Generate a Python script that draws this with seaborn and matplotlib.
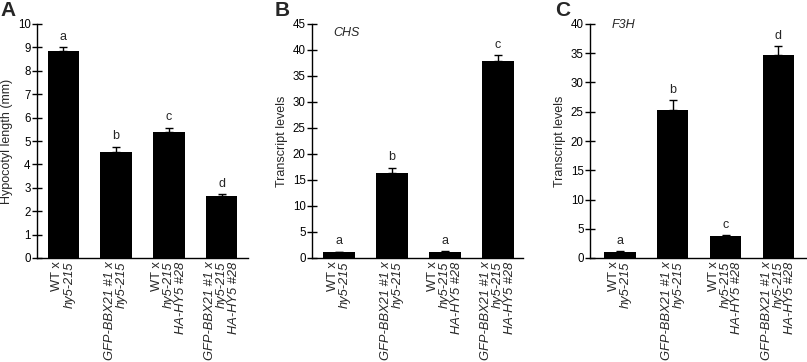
import numpy as np
import pandas as pd
import matplotlib
matplotlib.use("Agg")
import matplotlib.pyplot as plt
import matplotlib.transforms as mtransforms
import seaborn as sns

# ---------------- data ----------------
genotypes = ["WT x hy5-215", "GFP-BBX21 #1 x hy5-215",
             "WT x hy5-215 HA-HY5 #28", "GFP-BBX21 #1 x hy5-215 HA-HY5 #28"]
label_lines = [["WT x", "hy5-215"],
               ["GFP-BBX21 #1 x", "hy5-215"],
               ["WT x", "hy5-215", "HA-HY5 #28"],
               ["GFP-BBX21 #1 x", "hy5-215", "HA-HY5 #28"]]
label_italic = [[False, True],
                [True, True],
                [False, True, True],
                [True, True, True]]

hypocotyl = [8.83, 4.52, 5.40, 2.65]
hypocotyl_err = [0.20, 0.24, 0.17, 0.07]
hypocotyl_sig = ["a", "b", "c", "d"]

chs = [1.1, 16.3, 1.2, 37.9]
chs_err = [0.15, 1.1, 0.15, 1.1]
chs_sig = ["a", "b", "a", "c"]

f3h = [1.08, 25.3, 3.76, 34.7]
f3h_err = [0.1, 1.7, 0.15, 1.5]
f3h_sig = ["a", "b", "c", "d"]

panels = [
    dict(letter="A", vals=hypocotyl, err=hypocotyl_err, sig=hypocotyl_sig,
         ylabel="Hypocotyl length (mm)", ymax=10, ystep=1, gene=None),
    dict(letter="B", vals=chs, err=chs_err, sig=chs_sig,
         ylabel="Transcript levels", ymax=45, ystep=5, gene="CHS"),
    dict(letter="C", vals=f3h, err=f3h_err, sig=f3h_sig,
         ylabel="Transcript levels", ymax=40, ystep=5, gene="F3H"),
]

# ---------------- layout (pixels) ----------------
W, H = 807, 362
sns.set_theme(style="ticks")
plt.rcParams["font.family"] = ["Liberation Sans", "DejaVu Sans"]

fig = plt.figure(figsize=(W / 100, H / 100), dpi=100)

ax_px = [(37, 248), (312, 523), (590, 806)]
xlims = [(-0.5, 3.5), (-0.51, 3.47), (-0.56, 3.52)]
letter_x = [0, 275, 555]
ylabel_right_px = [13, 288, 566]
gene_pos = [None, (0.10, 0.962), (0.10, 0.994)]
top_px, bot_px = 24, 258

for i, p in enumerate(panels):
    l, r = ax_px[i]
    ax = fig.add_axes([l / W, (H - bot_px) / H, (r - l) / W, (bot_px - top_px) / H])
    df = pd.DataFrame({"genotype": genotypes, "value": p["vals"]})
    sns.barplot(data=df, x="genotype", y="value", color="black", width=0.6,
                saturation=1, errorbar=None, ax=ax, edgecolor="none")
    xs = np.arange(len(genotypes))
    ax.errorbar(xs, p["vals"], yerr=[np.zeros(len(xs)), p["err"]], fmt="none",
                ecolor="black", elinewidth=1, capsize=3.2, capthick=1)
    for x, v, e, s in zip(xs, p["vals"], p["err"], p["sig"]):
        ax.annotate(s, (x, v + e), xytext=(0, 3), textcoords="offset points",
                    ha="center", va="bottom", fontsize=9)
    ax.set_ylim(0, p["ymax"])
    ax.set_yticks(np.arange(0, p["ymax"] + 0.1, p["ystep"]))
    ax.set_xlim(*xlims[i])
    ax.set_xticks(xs)
    ax.set_xticklabels([])
    ax.set_xlabel("")
    ax.set_ylabel(p["ylabel"], fontsize=9)
    ax.yaxis.set_label_coords((ylabel_right_px[i] - l) / (r - l), 0.5)
    ax.tick_params(axis="y", direction="inout", length=7, width=1, labelsize=8.3,
                   pad=1, colors="black")
    ax.tick_params(axis="x", length=0)
    for sp in ["top", "right"]:
        ax.spines[sp].set_visible(False)
    for sp in ["left", "bottom"]:
        ax.spines[sp].set_color("black")
        ax.spines[sp].set_linewidth(1)
    ax.set_facecolor("white")
    ax.patch.set_alpha(0)

    # multi-line, mixed-style category labels
    base = mtransforms.blended_transform_factory(ax.transData, ax.transAxes)
    for x, lines, ital in zip(xs, label_lines, label_italic):
        n = len(lines)
        for j, (txt, it) in enumerate(zip(lines, ital)):
            dx = (j - (n - 1) / 2) * 8.6
            tr = mtransforms.offset_copy(base, fig=fig, x=dx, y=-2.5, units="points")
            ax.text(x, 0, txt, transform=tr, rotation=90, ha="center", va="top",
                    fontsize=9.3, fontstyle="italic" if it else "normal",
                    rotation_mode="default", clip_on=False)

    if gene_pos[i] is not None:
        gx, gy = gene_pos[i]
        ax.text(gx, gy, p["gene"], transform=ax.transAxes, fontsize=9,
                fontstyle="italic", ha="left", va="center")

    fig.text(letter_x[i] / W, 1 - 1 / H, p["letter"], fontsize=15,
             fontweight="bold", ha="left", va="top")

fig.savefig("out.png", dpi=100, facecolor="white")
